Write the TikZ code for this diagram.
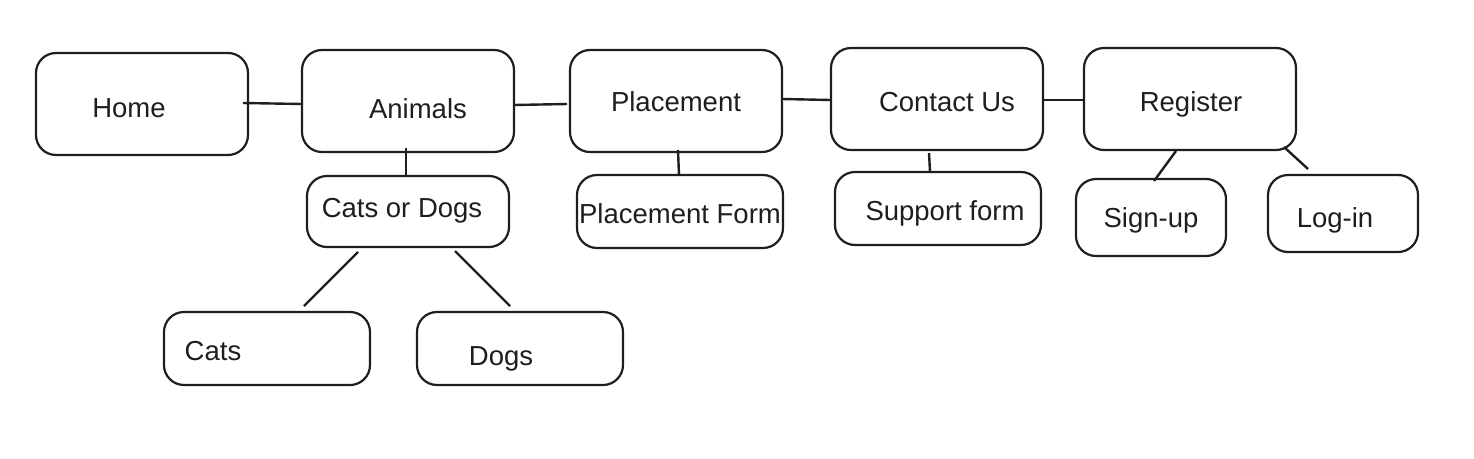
\documentclass[tikz,border=0pt]{standalone}
\usepackage{fontspec}
\setmainfont{Liberation Sans}
\begin{document}
\begin{tikzpicture}[x=1pt,y=-1pt,
  box/.style={draw=ink, line width=2.2pt, rounded corners=20pt, inner sep=0pt},
  lbl/.style={font=\fontsize{27.5}{32}\selectfont, text=ink, inner sep=0pt, anchor=base},
  conn/.style={draw=ink, line width=2.4pt}]
\definecolor{ink}{HTML}{1E1E1E}
\useasboundingbox (0,0) rectangle (1474,458);
% top row
\node[box, minimum width=212pt, minimum height=102pt] (home) at (142,104) {};
\node[box, minimum width=212pt, minimum height=102pt] (animals) at (408,101) {};
\node[box, minimum width=212pt, minimum height=102pt] (placement) at (676,101) {};
\node[box, minimum width=212pt, minimum height=102pt] (contact) at (937,99) {};
\node[box, minimum width=212pt, minimum height=102pt] (register) at (1190,99) {};
% second row
\node[box, minimum width=202pt, minimum height=71pt] (catsordogs) at (408,211.5) {};
\node[box, minimum width=206pt, minimum height=73pt] (pform) at (680,211.5) {};
\node[box, minimum width=206pt, minimum height=73pt] (support) at (938,208.5) {};
\node[box, minimum width=150pt, minimum height=77pt] (signup) at (1151,217.5) {};
\node[box, minimum width=150pt, minimum height=77pt] (login) at (1343,213.5) {};
% third row
\node[box, minimum width=206pt, minimum height=73pt] (cats) at (267,348.5) {};
\node[box, minimum width=206pt, minimum height=73pt] (dogs) at (520,348.5) {};
% labels (baselines)
\node[lbl] (thome) at (129,117) {Home};
\node[lbl] (tanimals) at (418,118) {Animals};
\node[lbl] (tplacement) at (676,111) {Placement};
\node[lbl] (tcontact) at (947,111) {Contact Us};
\node[lbl] (tregister) at (1191,111) {Register};
\node[lbl] (tcod) at (402,217) {Cats or Dogs};
\node[lbl] (tpform) at (680,223) {Placement Form};
\node[lbl] (tsupport) at (945,220) {Support form};
\node[lbl] (tsignup) at (1151,227) {Sign-up};
\node[lbl] (tlogin) at (1335,227) {Log-in};
\node[lbl] (tcats) at (213,360) {Cats};
\node[lbl] (tdogs) at (501,365) {Dogs};
% connector end points
\coordinate (c1) at (243,103);
\coordinate (c2) at (302,104);
\coordinate (c3) at (514,105);
\coordinate (c4) at (567,104);
\coordinate (c5) at (782,99);
\coordinate (c6) at (831,100);
\coordinate (c7) at (1043,100);
\coordinate (c8) at (1085,100);
\coordinate (a1) at (406,148);
\coordinate (a2) at (406,176);
\coordinate (p1) at (678,150);
\coordinate (p2) at (679,175);
\coordinate (s1) at (929,153);
\coordinate (s2) at (930,172);
\coordinate (r1) at (1176,151);
\coordinate (r2) at (1154,181);
\coordinate (l1) at (1284,147);
\coordinate (l2) at (1308,169);
\coordinate (k1) at (358,252);
\coordinate (k2) at (304,306);
\coordinate (d1) at (455,251);
\coordinate (d2) at (510,306);
% connectors
\draw[conn] (c1) -- (c2);
\draw[conn] (c3) -- (c4);
\draw[conn] (c5) -- (c6);
\draw[conn] (c7) -- (c8);
\draw[conn] (a1) -- (a2);
\draw[conn] (p1) -- (p2);
\draw[conn] (s1) -- (s2);
\draw[conn] (r1) -- (r2);
\draw[conn] (l1) -- (l2);
\draw[conn] (k1) -- (k2);
\draw[conn] (d1) -- (d2);
\end{tikzpicture}
\end{document}
